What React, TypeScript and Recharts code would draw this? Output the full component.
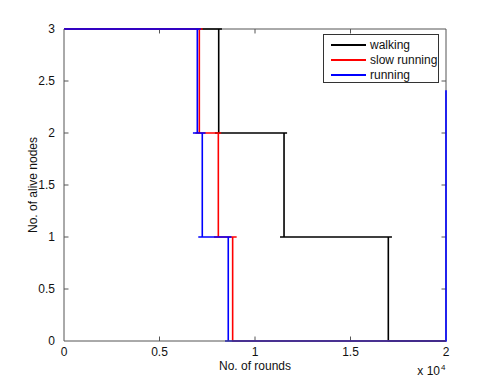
import {
  LineChart,
  Line,
  XAxis,
  YAxis,
  Legend,
  Label,
  ReferenceLine,
} from "recharts";

// step curves (x = rounds, y = alive nodes)
const walking = [
  { x: 0, y: 3 }, { x: 8270, y: 3 }, { x: 8100, y: 3 }, { x: 8100, y: 2 },
  { x: 7900, y: 2 }, { x: 11680, y: 2 }, { x: 11520, y: 2 }, { x: 11520, y: 1 },
  { x: 11310, y: 1 }, { x: 17170, y: 1 }, { x: 16980, y: 1 }, { x: 16980, y: 0 },
  { x: 20000, y: 0 },
];

const slowRunning = [
  { x: 0, y: 3 }, { x: 7260, y: 3 }, { x: 7085, y: 3 }, { x: 7085, y: 2 },
  { x: 6880, y: 2 }, { x: 8230, y: 2 }, { x: 8080, y: 2 }, { x: 8080, y: 1 },
  { x: 7850, y: 1 }, { x: 9040, y: 1 }, { x: 8830, y: 1 }, { x: 8830, y: 0 },
  { x: 20000, y: 0 },
];

const running = [
  { x: 0, y: 3 }, { x: 7160, y: 3 }, { x: 6980, y: 3 }, { x: 6980, y: 2 },
  { x: 6750, y: 2 }, { x: 7410, y: 2 }, { x: 7240, y: 2 }, { x: 7240, y: 1 },
  { x: 7030, y: 1 }, { x: 8770, y: 1 }, { x: 8600, y: 1 }, { x: 8600, y: 0 },
  { x: 8430, y: 0 }, { x: 20000, y: 0 }, { x: 20000, y: 2.41 },
];

const seriesNames = ["walking", "slow running", "running"];
const xTicks = [0, 5000, 10000, 15000, 20000];
const yTicks = [0, 0.5, 1, 1.5, 2, 2.5, 3];

const X_MAX = 20000;
const Y_MAX = 3;
const TICK_X = 235; // inward tick length in x units
const TICK_Y = 0.043; // inward tick length in y units
const AXIS = "#555";
const TEXT = "#111";
const FONT = "'Liberation Sans', Arial, Helvetica, sans-serif";

const renderLegend = (props: any) => {
  const items = [...(props.payload || [])].sort(
    (a: any, b: any) => seriesNames.indexOf(a.value) - seriesNames.indexOf(b.value)
  );
  return (
    <div
      style={{
        border: "1px solid #333",
        background: "#fff",
        width: 116,
        height: 49,
        boxSizing: "border-box",
        paddingTop: 2,
        fontFamily: FONT,
        fontSize: 12,
        color: TEXT,
      }}
    >
      {items.map((entry: any) => (
        <div
          key={entry.value}
          style={{ display: "flex", alignItems: "center", height: 15 }}
        >
          <span
            style={{
              display: "inline-block",
              width: 35,
              marginLeft: 7,
              marginRight: 4,
              borderTop: `2px solid ${entry.color}`,
            }}
          />
          <span>{entry.value}</span>
        </div>
      ))}
    </div>
  );
};

// MATLAB style "x 10^4" multiplier under the right end of the x axis
const renderExponent = (props: any) => {
  const vb = props.viewBox || {};
  const right = vb.x + vb.width;
  const base = vb.y + 34;
  return (
    <text fill={TEXT} fontSize={12} fontFamily={FONT}>
      <tspan x={right - 6} y={base} textAnchor="end">
        x 10
      </tspan>
      <tspan x={right - 5} y={base - 5} fontSize={8} textAnchor="start">
        4
      </tspan>
    </text>
  );
};

export default function App() {
  return (
    <div
      style={{
        position: "absolute",
        left: 0,
        top: 0,
        width: 491,
        height: 382,
        background: "#fff",
        fontFamily: FONT,
      }}
    >
      <LineChart
        width={491}
        height={382}
        margin={{ top: 29, right: 45, left: 0, bottom: 0 }}
      >
        <XAxis
          type="number"
          dataKey="x"
          domain={[0, X_MAX]}
          ticks={xTicks}
          tickFormatter={(v) => String(v / 10000)}
          height={41}
          stroke={AXIS}
          tickLine={false}
          tickSize={4}
          tickMargin={2}
          tick={{ fill: TEXT, fontSize: 12 }}
        >
          <Label
            value="No. of rounds"
            position="insideBottom"
            offset={12}
            fill={TEXT}
            fontSize={12}
          />
          <Label content={renderExponent} />
        </XAxis>
        <YAxis
          type="number"
          dataKey="y"
          domain={[0, Y_MAX]}
          ticks={yTicks}
          width={64}
          stroke={AXIS}
          tickLine={false}
          tickSize={4}
          tickMargin={5}
          tick={{ fill: TEXT, fontSize: 12 }}
          label={{
            value: "No. of alive nodes",
            angle: -90,
            position: "insideLeft",
            offset: 33,
            fill: TEXT,
            fontSize: 12,
            style: { textAnchor: "middle" },
          }}
        />

        {/* box: top and right */}
        <ReferenceLine y={Y_MAX} stroke={AXIS} />
        <ReferenceLine x={X_MAX} stroke={AXIS} />

        {/* inward tick marks on all four sides */}
        {xTicks.slice(1, -1).map((t) => (
          <ReferenceLine
            key={`xb-${t}`}
            stroke={AXIS}
            segment={[{ x: t, y: 0 }, { x: t, y: TICK_Y }]}
          />
        ))}
        {xTicks.slice(1, -1).map((t) => (
          <ReferenceLine
            key={`xt-${t}`}
            stroke={AXIS}
            segment={[{ x: t, y: Y_MAX }, { x: t, y: Y_MAX - TICK_Y }]}
          />
        ))}
        {yTicks.slice(1, -1).map((t) => (
          <ReferenceLine
            key={`yl-${t}`}
            stroke={AXIS}
            segment={[{ x: 0, y: t }, { x: TICK_X, y: t }]}
          />
        ))}
        {yTicks.slice(1, -1).map((t) => (
          <ReferenceLine
            key={`yr-${t}`}
            stroke={AXIS}
            segment={[{ x: X_MAX, y: t }, { x: X_MAX - TICK_X, y: t }]}
          />
        ))}

        <Line
          data={walking}
          dataKey="y"
          name="walking"
          type="linear"
          stroke="#000000"
          strokeWidth={1.6}
          dot={false}
          activeDot={false}
          isAnimationActive={false}
        />
        <Line
          data={slowRunning}
          dataKey="y"
          name="slow running"
          type="linear"
          stroke="#ff0000"
          strokeWidth={1.6}
          dot={false}
          activeDot={false}
          isAnimationActive={false}
        />
        <Line
          data={running}
          dataKey="y"
          name="running"
          type="linear"
          stroke="#0000ff"
          strokeWidth={1.6}
          dot={false}
          activeDot={false}
          isAnimationActive={false}
        />

        <Legend
          layout="vertical"
          align="center"
          verticalAlign="middle"
          content={renderLegend}
          wrapperStyle={{ top: 34, left: 323, width: 116 }}
        />
      </LineChart>
    </div>
  );
}
